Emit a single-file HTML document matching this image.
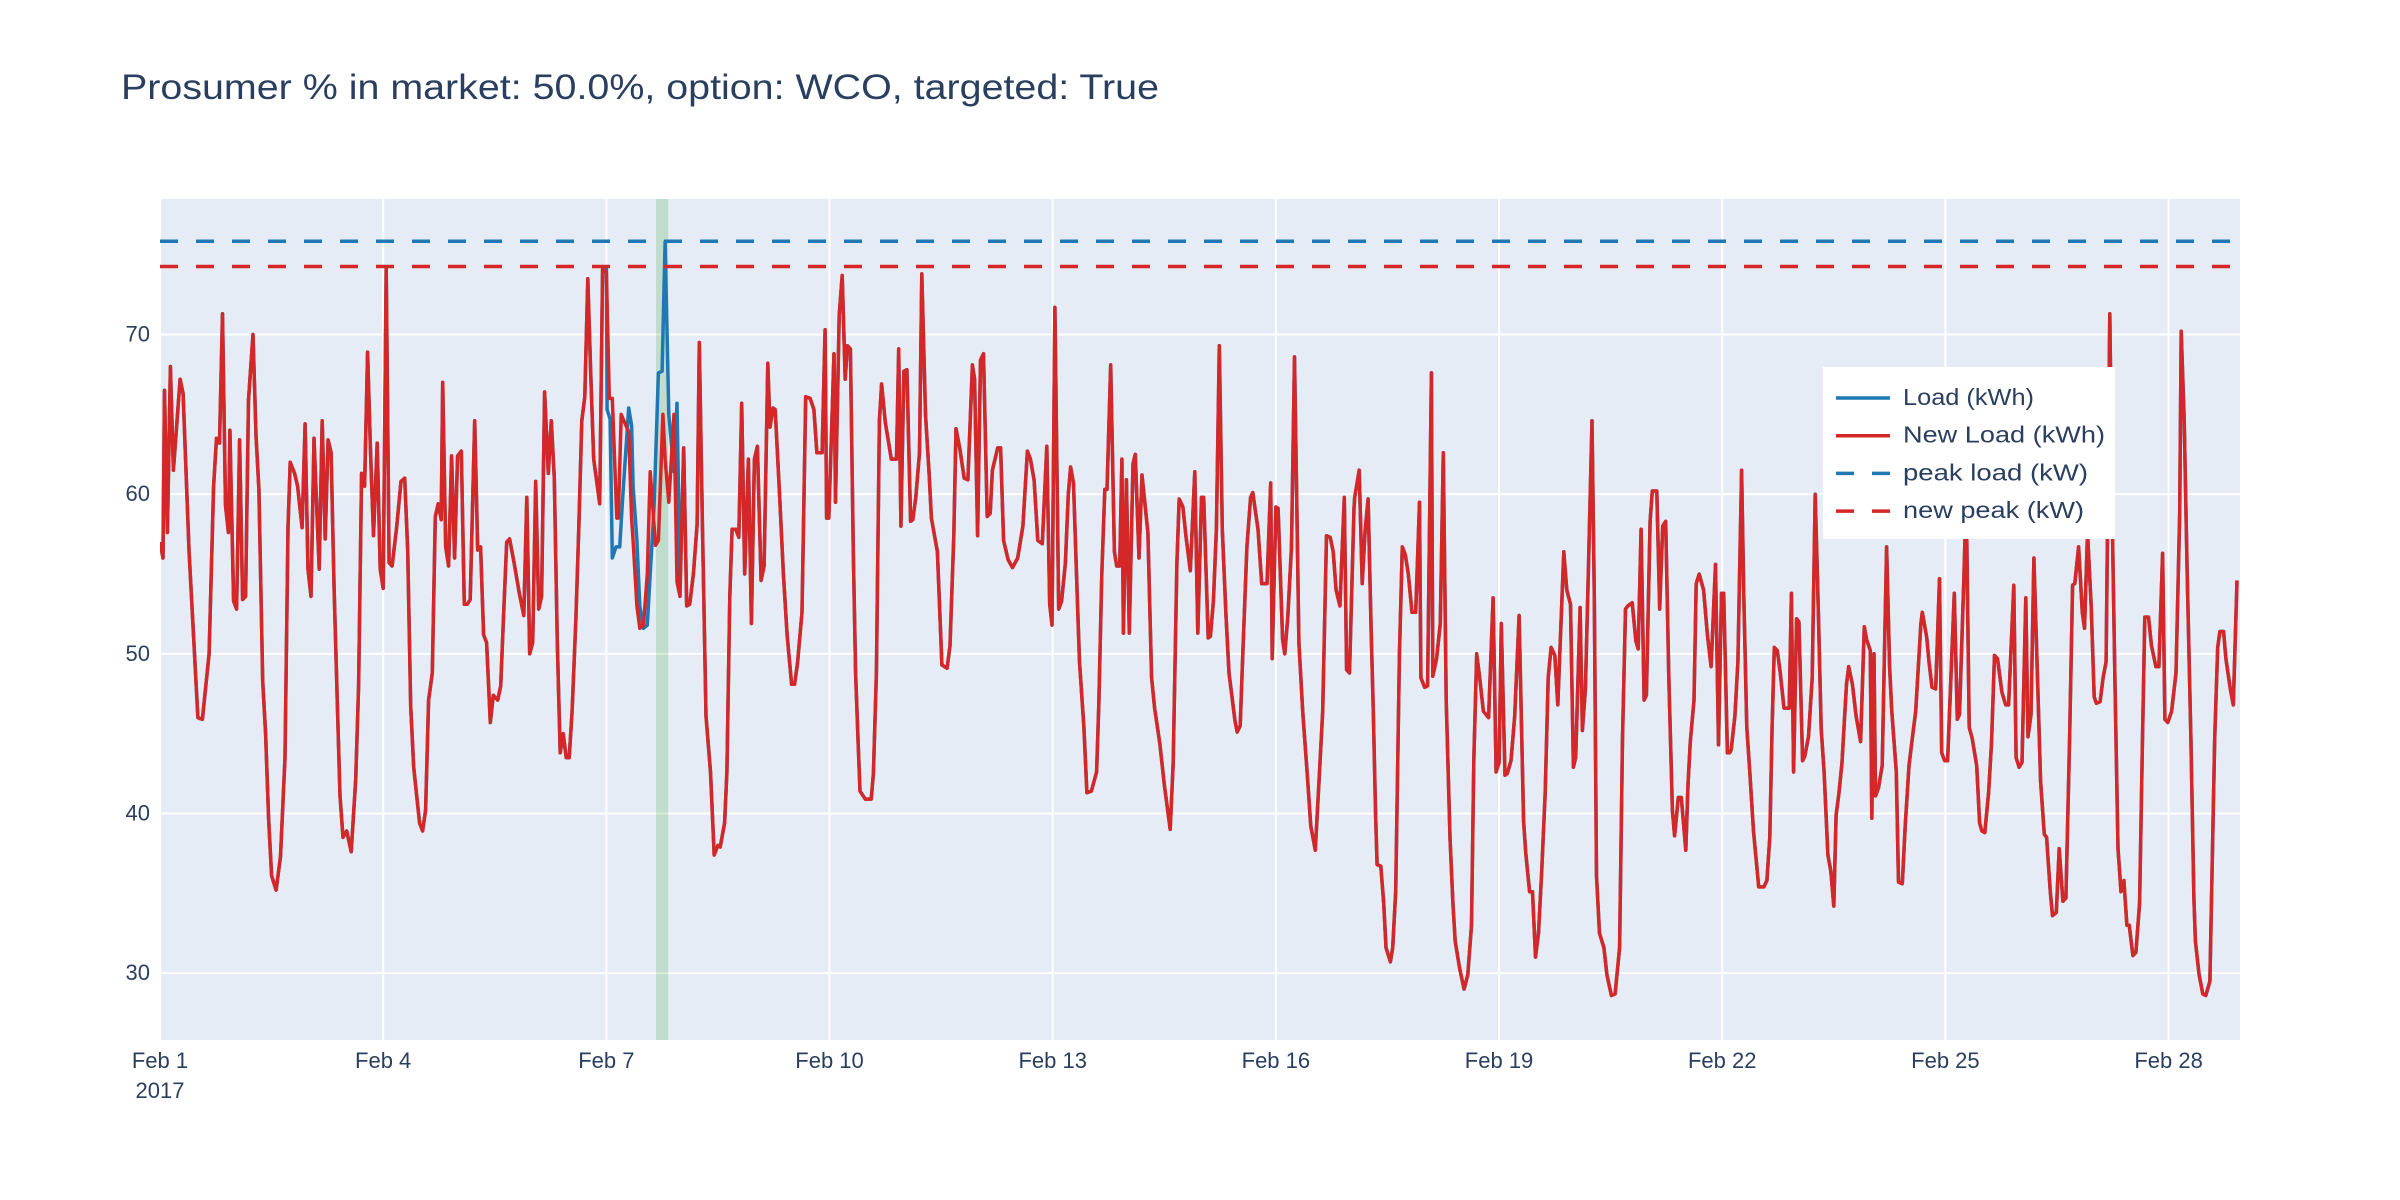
<!DOCTYPE html>
<html><head><meta charset="utf-8"><style>
html,body{margin:0;padding:0;background:#fff}
svg{display:block}
text{font-family:"Liberation Sans",sans-serif;fill:#2a3f5f}
</style></head><body>
<svg id="chart" width="2400" height="1200" viewBox="0 0 2400 1200">
<text x="121" y="99" font-size="35" textLength="1038" lengthAdjust="spacingAndGlyphs">Prosumer % in market: 50.0%, option: WCO, targeted: True</text>
<defs><clipPath id="pc"><rect x="160" y="199" width="2080" height="841"/></clipPath></defs>
<rect x="160" y="199" width="2080" height="841" fill="#e5ecf6"/>
<g id="grid"></g><g id="band"></g><g id="series" clip-path="url(#pc)"></g><g id="ticks"></g>
<g id="legend"></g>
</svg>
<script>
const xTicks=[0,3,6,9,12,15,18,21,24,27];
const xTickLabels=["Feb 1","Feb 4","Feb 7","Feb 10","Feb 13","Feb 16","Feb 19","Feb 22","Feb 25","Feb 28"];
const yTicks=[30,40,50,60,70];
const peakLoad=75.84;
const newPeak=74.26;
const bandStart=6.668, bandEnd=6.832;
const days=[0,.04,.06,.10,.14,.18,.27,.31,.39,.51,.57,.66,.72,.76,.80,.84,.88,.92,.94,.99,1.03,1.07,1.11,1.15,1.19,1.25,1.29,1.33,1.38,1.42,1.46,1.50,1.56,1.62,1.68,1.72,1.75,1.81,1.85,1.91,1.95,1.99,2.03,2.07,2.14,2.18,2.22,2.26,2.30,2.34,2.38,2.42,2.46,2.51,2.57,2.63,2.67,2.71,2.75,2.79,2.83,2.87,2.92,2.96,3.00,3.04,3.08,3.12,3.18,3.24,3.29,3.33,3.37,3.41,3.45,3.49,3.53,3.57,3.61,3.66,3.70,3.74,3.78,3.80,3.84,3.88,3.92,3.96,4.00,4.05,4.09,4.13,4.17,4.23,4.27,4.31,4.35,4.39,4.44,4.48,4.54,4.58,4.62,4.66,4.70,4.76,4.83,4.89,4.93,4.97,5.01,5.05,5.09,5.13,5.17,5.22,5.26,5.30,5.34,5.38,5.42,5.46,5.50,5.54,5.59,5.63,5.67,5.71,5.75,5.79,5.83,5.87,5.91,5.95,
6.00,6.04,6.08,6.14,6.16,6.20,6.30,6.34,6.36,6.41,6.45,6.50,6.55,6.59,6.66,6.70,6.76,6.79,6.84,6.91,6.95,6.99,
7.04,7.08,7.12,7.17,7.22,7.25,7.29,7.34,7.40,7.45,7.50,7.53,7.59,7.62,7.66,7.69,7.74,7.78,7.82,7.86,7.91,7.95,7.99,8.03,8.08,8.12,8.17,8.20,8.24,8.27,8.33,8.38,8.43,8.49,8.53,8.57,8.63,8.68,8.74,8.79,8.83,8.90,8.94,8.96,8.99,9.06,9.08,9.13,9.17,9.21,9.24,9.28,9.32,9.35,9.38,9.41,9.48,9.56,9.59,9.63,9.67,9.70,9.75,9.83,9.90,9.93,9.96,10.00,10.04,10.09,10.12,10.16,10.21,10.24,10.29,10.34,10.37,10.45,10.51,10.58,10.62,10.67,10.70,10.75,10.81,10.86,10.92,10.95,10.99,11.03,11.07,11.12,11.16,11.19,11.26,11.30,11.34,11.40,11.46,11.53,11.60,11.66,11.70,11.75,11.80,11.86,11.92,11.96,11.99,12.03,12.08,12.12,12.17,12.21,12.24,12.28,12.33,12.36,12.42,12.46,12.52,12.59,12.62,12.66,12.70,12.73,12.78,12.83,12.86,12.90,12.93,12.95,12.99,13.03,13.08,13.11,13.16,13.20,13.28,13.33,13.37,13.44,13.50,13.58,13.62,13.67,13.70,13.75,13.79,13.85,13.91,13.95,14.00,14.03,14.09,
14.12,14.16,14.20,14.24,14.28,14.33,14.37,14.45,14.48,14.52,14.56,14.61,14.66,14.69,14.76,14.81,14.88,14.93,14.95,15.00,15.03,15.09,15.12,15.16,15.21,15.25,15.28,15.31,15.36,15.42,15.47,15.53,15.58,15.63,15.68,15.73,15.77,15.81,15.86,15.92,15.95,15.99,16.05,16.06,16.12,16.16,16.20,16.24,16.28,16.31,16.34,16.36,16.41,16.45,16.48,16.54,16.57,16.61,16.66,16.70,16.74,16.78,16.83,16.88,16.93,16.95,17.00,17.04,17.09,17.11,17.16,17.21,17.25,17.29,17.34,17.38,17.41,17.47,17.53,17.58,17.63,17.66,17.70,17.74,17.79,17.86,17.92,17.96,18.00,18.03,18.08,18.11,18.16,18.21,18.27,18.33,18.36,18.41,18.45,18.49,18.53,18.57,18.62,18.66,18.70,18.75,18.79,18.87,18.91,18.96,19.00,19.03,19.09,19.12,19.16,19.20,19.25,19.28,19.31,19.35,19.41,19.45,19.51,19.56,19.62,19.66,19.70,19.73,19.79,19.84,19.87,19.91,19.95,19.98,20.03,20.06,20.12,20.16,20.20,20.24,20.28,20.33,20.36,20.41,20.45,20.51,20.54,20.57,20.62,20.65,20.69,20.75,20.80,20.85,20.91,20.95,20.99,21.02,21.07,21.10,
21.12,21.17,21.21,21.26,21.29,21.33,21.37,21.42,21.49,21.56,21.60,21.64,21.67,21.70,21.74,21.78,21.83,21.90,21.93,21.96,22.00,22.03,22.08,22.11,22.16,22.21,22.25,22.29,22.33,22.37,22.42,22.46,22.50,22.53,22.57,22.61,22.67,22.70,22.75,22.80,22.86,22.91,22.94,22.99,23.01,23.04,23.06,23.10,23.15,23.21,23.25,23.28,23.34,23.37,23.42,23.46,23.51,23.555,23.60,23.67,23.69,23.75,23.78,23.82,23.87,23.92,23.95,23.99,24.03,24.12,24.16,24.19,24.25,24.28,24.32,24.36,24.42,24.46,24.49,24.53,24.58,24.62,24.66,24.70,24.76,24.81,24.85,24.92,24.95,24.99,25.03,25.08,25.11,25.15,25.19,25.24,25.28,25.33,25.36,25.41,25.44,25.49,25.53,25.58,25.62,25.67,25.71,25.74,25.79,25.84,25.87,25.91,25.96,26.00,26.03,26.08,26.12,26.16,26.21,26.25,26.28,26.32,26.36,26.40,26.44,26.47,26.52,26.56,26.61,26.65,26.68,26.73,26.77,26.83,26.87,26.92,26.95,26.99,27.04,27.10,27.15,27.17,27.21,27.25,27.30,27.34,27.36,27.41,27.46,27.50,27.555,27.59,27.62,27.66,27.69,27.74,27.77,27.83,27.87,27.92,27.94];
const newLoad=[57,56,66.5,57.6,68,61.5,67.2,66.3,56.5,46,45.9,50,60.5,63.5,63.2,71.3,59.3,57.6,64,53.3,52.8,63.4,53.4,53.6,65.9,70,63.7,60.3,48.3,45,39.7,36.1,35.2,37.3,43.5,57.9,62,61.3,60.5,57.9,64.4,55.3,53.6,63.5,55.3,64.6,57.2,63.4,62.6,54.1,47.4,41.1,38.5,38.9,37.6,42.1,48,61.3,60.5,68.9,62.7,57.4,63.2,55.3,54.1,74.2,55.7,55.5,57.9,60.8,61,56.5,46.7,42.9,41.1,39.4,38.9,40.2,47.1,48.8,58.6,59.4,58.4,67,56.7,55.5,62.4,56,62.4,62.7,53.1,53.1,53.4,64.6,56.5,56.7,51.2,50.7,45.7,47.4,47.1,48,52.6,57,57.2,55.7,53.8,52.4,59.8,50,50.7,60.8,52.8,53.6,66.4,61.3,64.6,61,50.7,43.8,45,43.5,43.5,46.4,52.2,57.9,64.6,66.1,73.5,67.6,62.2,60.8,59.4,
74.1,73.9,66,66,58.5,58.5,65,63.9,58.5,57.1,53,51.6,51.8,55,61.4,56.8,57.1,65,62.2,59.5,65,54.5,
53.6,62.9,53,53.1,55,58.1,69.5,58.5,46.1,42.6,37.4,38,37.9,39.4,42.6,53.6,57.8,57.8,57.3,65.7,55,62.2,51.9,62.2,63,54.6,55.5,68.2,64.2,65.4,65.3,59.8,55,51.2,48.1,48.1,49.4,52.6,66.1,66,65.3,62.6,62.6,70.3,58.5,58.5,68.8,59.5,71.2,73.7,67.2,69.3,69.1,56.4,48.8,45,41.4,40.9,40.9,42.5,48.8,64.6,66.9,64.5,62.2,62.2,69.1,58,67.7,67.8,58.3,58.4,59.8,62.6,73.8,65,61.2,58.5,56.4,49.3,49.1,50.5,57.4,64.1,62.9,61,60.9,68.1,67.2,57.4,68.4,68.8,58.6,58.8,61.5,62.9,62.9,57.1,55.9,55.4,56,58,62.7,62.2,60.9,57.1,56.9,63,53.1,51.8,71.7,52.8,53.3,55.7,60,61.7,60.7,53.5,49.5,45.4,41.3,41.4,42.6,46.8,55,60.3,60.3,68.1,56.4,55.5,55.5,62.2,51.3,60.9,51.3,61.9,62.5,56,61.2,57.6,48.5,46.6,44.4,41.8,39,43.2,55.7,59.7,59.2,57.4,55.2,61.4,51.3,59.8,59.8,
51,51.1,53.3,57.8,69.3,57.8,52.4,48.8,45.8,45.1,45.5,50.5,56.7,59.8,60.1,57.8,54.4,54.4,60.7,49.7,59.2,59.1,50.9,50,52.3,56.7,68.6,59.8,50.7,46.4,42.6,39.2,37.7,42,46.4,57.4,57.3,56.4,54,53,59.8,49,48.8,59.1,59.8,61.5,54.4,57.8,59.7,51.6,46.4,39.9,36.8,36.7,34.4,31.6,30.7,31.6,35.1,49.9,56.7,56.2,55,52.6,52.6,59.5,48.5,47.9,48,67.6,48.6,49.7,51.9,62.6,47.1,38.5,34.4,32,30.3,29,29.9,33,43.3,50,48.5,46.4,46,53.5,42.6,43.2,51.9,42.4,42.5,43.3,46.1,52.4,39.5,37.5,35.1,35.1,31,32.5,36.1,41.3,48.5,50.4,49.9,46.8,56.4,54,53.1,42.9,43.5,52.9,45.2,47.8,55,64.6,53.6,36.1,32.5,31.6,29.9,28.6,28.7,31.6,44.7,52.8,53,53.2,50.8,50.3,57.8,47.1,47.4,58.3,60.2,60.2,52.8,58,58.3,48.8,40.2,38.6,41,41,37.7,41.8,44.4,47.1,54.4,55,54,51.2,49.2,55.6,44.3,53.8,53.8,43.8,
43.8,44,46.1,49.5,61.5,53.6,45.4,42.6,38.9,35.4,35.4,35.8,38.5,45.4,50.4,50.2,48.8,46.6,46.6,53.8,42.6,52.2,52,43.3,43.6,44.8,48.5,60,53,45.3,42.6,37.4,36.4,34.2,39.9,41.3,43.2,48.1,49.2,48.1,46.1,44.5,51.7,50.9,50.2,39.7,50,41.1,41.6,43,56.7,49.2,46.4,42.6,35.7,35.6,39.2,43,44.7,46.4,51.9,52.6,51,49.5,47.9,47.8,54.7,43.8,43.3,43.3,53.8,45.9,46.2,55,60,45.4,44.7,43,39.4,38.9,38.8,41.3,44.4,49.9,49.7,47.6,46.8,46.8,54.3,43.5,42.9,43.2,53.5,44.8,46.2,56,48.1,42,38.7,38.5,35.1,33.6,33.8,37.8,34.5,34.7,44.7,54.3,54.4,56.7,52.6,51.6,57.6,53,47.3,46.9,47,48.5,49.5,71.3,56.4,48.1,37.8,35.1,35.8,33,33,31.1,31.3,34.4,44.7,52.3,52.3,50.5,49.2,49.2,56.3,45.9,45.7,46.4,48.8,58.8,70.2,64.6,55,44.7,34.7,32,29.9,28.7,28.6,29.5,37.8,44.7,50.4,51.4,51.4,49.7,47.8,46.8,54.6];
const loadOverrideDays=[6.00,6.01,6.05,6.08,6.13,6.18,6.22,6.30,6.34,6.36,6.41,6.45,6.50,6.55,6.59,6.64,6.70,6.75,6.79,6.84,6.91,6.95,6.99];
const loadOverrideValues=[74.1,65.3,64.7,56,56.7,56.7,59.8,65.4,64.3,60.5,57.1,53,51.6,51.8,55,59.1,67.6,67.7,75.8,65,61.4,65.7,54.5];

const NS="http://www.w3.org/2000/svg";
const X0=160,X1=2240,Y0=199,Y1=1040,XMIN=0,XMAX=27.96,YMIN=25.81,YMAX=78.49;
function xs(d){return X0+(d-XMIN)/(XMAX-XMIN)*(X1-X0);}
function ys(v){return Y1-(v-YMIN)/(YMAX-YMIN)*(Y1-Y0);}
function mk(tag,attrs,parent){const e=document.createElementNS(NS,tag);for(const k in attrs)e.setAttribute(k,attrs[k]);parent.appendChild(e);return e;}
const grid=document.getElementById('grid'),ticks=document.getElementById('ticks');
xTicks.forEach((d,i)=>{
  const l=mk('line',{x1:xs(d),x2:xs(d),y1:Y0,y2:Y1,stroke:'#fff','stroke-width':2},grid);
  
  
  const t=mk('text',{x:xs(d),y:1068,'font-size':22,'text-anchor':'middle'},ticks);
  t.textContent=xTickLabels[i];
  
  
});
const yr=mk('text',{x:xs(0),y:1098,'font-size':22,'text-anchor':'middle'},ticks);
yr.textContent='2017';


yTicks.forEach(v=>{
  const l=mk('line',{x1:X0,x2:X1,y1:ys(v),y2:ys(v),stroke:'#fff','stroke-width':2},grid);
  
  
  const t=mk('text',{x:150,y:ys(v)+7,'font-size':22,'text-anchor':'end'},ticks);
  t.textContent=String(v);
  
  
});
const band=mk('rect',{x:xs(bandStart),y:Y0,width:xs(bandEnd)-xs(bandStart),height:Y1-Y0,fill:'#2ca02c','fill-opacity':0.2},document.getElementById('band'));


const ser=document.getElementById('series');
function pathOf(ds,vs){return ds.map((d,i)=>(i?'L':'M')+xs(d).toFixed(1)+','+ys(vs[i]).toFixed(1)).join('');}
const lD=[],lV=[];
days.forEach((d,i)=>{if(d<loadOverrideDays[0]){lD.push(d);lV.push(newLoad[i]);}});
loadOverrideDays.forEach((d,i)=>{lD.push(d);lV.push(loadOverrideValues[i]);});
days.forEach((d,i)=>{if(d>loadOverrideDays[loadOverrideDays.length-1]){lD.push(d);lV.push(newLoad[i]);}});
const pl=mk('path',{d:pathOf(lD,lV),fill:'none',stroke:'#1f77b4','stroke-width':3.5,'stroke-linejoin':'round'},ser);


const pn=mk('path',{d:pathOf(days,newLoad),fill:'none',stroke:'#d62728','stroke-width':3.5,'stroke-linejoin':'round'},ser);


const h1=mk('line',{x1:X0,x2:X1,y1:ys(peakLoad),y2:ys(peakLoad),stroke:'#1f77b4','stroke-width':3.5,'stroke-dasharray':'18,18'},ser);


const h2=mk('line',{x1:X0,x2:X1,y1:ys(newPeak),y2:ys(newPeak),stroke:'#d62728','stroke-width':3.5,'stroke-dasharray':'18,18'},ser);


const lg=document.getElementById('legend');
mk('rect',{x:1823,y:367,width:292,height:172,fill:'#fff'},lg);
const entries=[['Load (kWh)','#1f77b4',null,131],['New Load (kWh)','#d62728',null,202],['peak load (kW)','#1f77b4','18,18',185],['new peak (kW)','#d62728','18,18',181]];
entries.forEach((e,i)=>{
  const y=398+i*37.7;
  const g=mk('g',{},lg);
  
  
  const a={x1:1836,x2:1890,y1:y,y2:y,stroke:e[1],'stroke-width':3.5};
  if(e[2])a['stroke-dasharray']=e[2];
  mk('line',a,g);
  const t=mk('text',{x:1903,y:y+7,'font-size':23,textLength:e[3],lengthAdjust:'spacingAndGlyphs'},g);
  t.textContent=e[0];
});
</script>
</body></html>
